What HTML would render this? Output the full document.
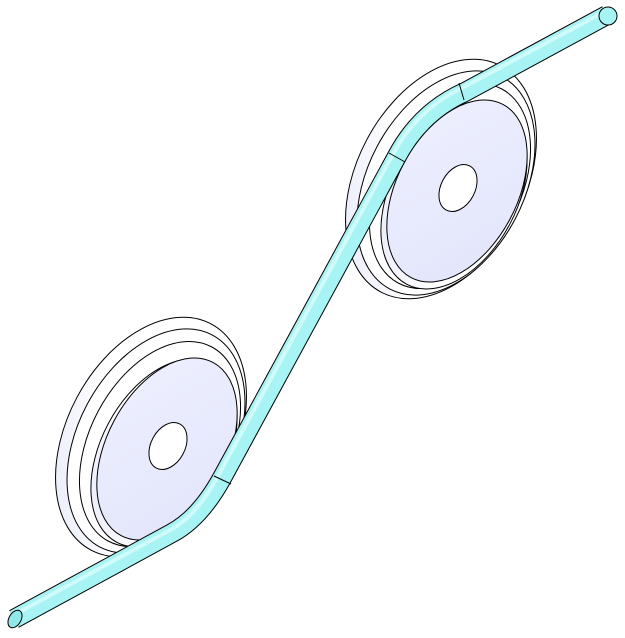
<!DOCTYPE html>
<html><head><meta charset="utf-8"><style>html,body{margin:0;padding:0;background:#fff}svg{display:block}</style></head>
<body>
<svg width="625" height="638" viewBox="0 0 625 638" xmlns="http://www.w3.org/2000/svg">
<defs>
<linearGradient id="face" x1="0" y1="0" x2="1" y2="1"><stop offset="0" stop-color="#eef0ff"/><stop offset="1" stop-color="#e2e5fb"/></linearGradient>
<linearGradient id="side" x1="0" y1="1" x2="1" y2="0"><stop offset="0" stop-color="#dfe2f8"/><stop offset="0.35" stop-color="#ffffff"/><stop offset="1" stop-color="#ffffff"/></linearGradient>
<g id="pulley">
<ellipse cx="-17" cy="-9" rx="84" ry="128" transform="rotate(28 -17 -9)" fill="url(#side)" stroke="#000" stroke-width="1"/>
<ellipse cx="-12" cy="-5" rx="78" ry="120" transform="rotate(28 -12 -5)" fill="#fff" stroke="#000" stroke-width="1"/>
<ellipse cx="-8" cy="-2" rx="70" ry="110" transform="rotate(28 -8 -2)" fill="#fff" stroke="#000" stroke-width="1"/>
<ellipse cx="-4" cy="7" rx="63" ry="101" transform="rotate(28 -4 7)" fill="url(#side)" stroke="#000" stroke-width="1"/>
<ellipse cx="-1" cy="3" rx="60" ry="98" transform="rotate(28 -1 3)" fill="url(#face)" stroke="#000" stroke-width="1"/>
<ellipse cx="0" cy="0" rx="17" ry="25" transform="rotate(28 0 0)" fill="#fff" stroke="#000" stroke-width="1"/>
</g>
</defs>
<use href="#pulley" x="458" y="188"/>
<use href="#pulley" x="168" y="446"/>
<g>
<path d="M14,619 L172,533 Q200,518 222,478 L396,158 Q420,112 465,92 L607,15" fill="none" stroke="#000" stroke-width="20" stroke-linecap="butt" stroke-linejoin="round"/>
<path d="M14,619 L172,533 Q200,518 222,478 L396,158 Q420,112 465,92 L607,15" fill="none" stroke="#a8f3f3" stroke-width="18" stroke-linejoin="round"/>
<path d="M14,615 L172,529 Q197,515 218,476 L392,156 Q416,110 462,88 L604,12" fill="none" stroke="#d8fdfd" stroke-width="4" stroke-linejoin="round" opacity="0.8"/>
<circle cx="608" cy="16" r="9" fill="#a8f3f3" stroke="#000" stroke-width="1"/>
<ellipse cx="15" cy="619" rx="6" ry="9.5" transform="rotate(30 15 619)" fill="#8fe8ea" stroke="#000" stroke-width="1"/>
<line x1="214" y1="476" x2="231" y2="484" stroke="#000" stroke-width="1"/>
<line x1="389" y1="153" x2="405" y2="162" stroke="#000" stroke-width="1"/>
<line x1="459" y1="83" x2="464" y2="100" stroke="#000" stroke-width="1"/>
</g>
</svg>
</body></html>
